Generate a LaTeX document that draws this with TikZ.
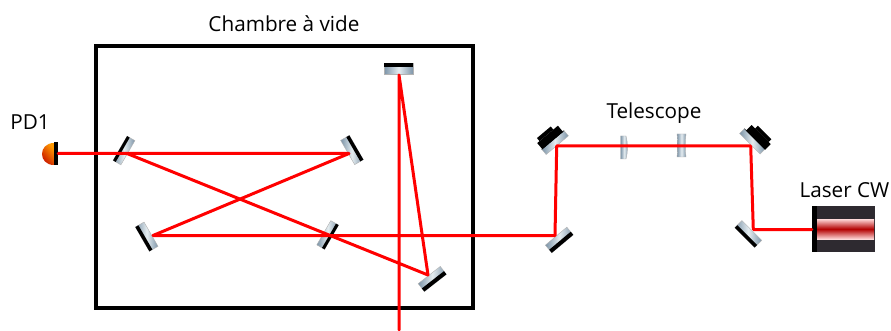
\documentclass[tikz,border=0pt]{standalone}
\usepackage{fontspec}
\setmainfont{Open Sans}
\definecolor{mirA}{HTML}{7C94A8}
\definecolor{mirB}{HTML}{E4ECF0}
\definecolor{beam}{HTML}{FF0000}
\definecolor{body}{HTML}{2E2A30}
\tikzset{
  lbl/.style={font=\fontsize{20.7}{24}\selectfont, inner sep=0pt, text=black},
  glass/.style={left color=mirA, right color=mirA, middle color=mirB, draw=gray!60, line width=0.4pt},
  ray/.style={draw=beam, line width=3pt, line cap=round, line join=round},
  chamber/.style={draw=black, line width=3.6pt, rectangle, inner sep=0pt, minimum width=377pt, minimum height=262pt},
  marker/.style={inner sep=0pt, minimum size=0pt},
}
% name, x, y, angle, length, height, black thickness
\newcommand\opticmirror[7]{%
  \node[marker] (#1) at (#2,#3) {};
  \begin{scope}[shift={(#2,#3)}, rotate=#4]
    \path[glass] (-#5pt/2,-#6pt/2) rectangle (#5pt/2,#6pt/2);
    \fill[black] (-#5pt/2,#6pt/2) rectangle (#5pt/2,#6pt/2-#7pt);
  \end{scope}}
\begin{document}
\begin{tikzpicture}[x=1pt,y=-1pt]
\useasboundingbox (0,0) rectangle (891,331);
\fill[white] (0,0) rectangle (891,331);
% chamber
\node[chamber] (box) at (284.5,177) {};
% labels
\node[lbl] (t1) at (284,24) {Chambre à vide};
\node[lbl] (t2) at (654,113) {Telescope};
\node[lbl] (t3) at (844.5,190) {Laser CW};
\node[lbl] (t4) at (30,122) {PD1};
% mirrors
\opticmirror{m1}{124}{150.5}{60}{28}{9}{3}
\opticmirror{m2}{352}{150}{-60}{28}{10}{3.5}
\opticmirror{m3}{146.7}{236.7}{120}{28}{10}{3.5}
\opticmirror{m4}{327.7}{235}{-120}{28}{9}{3}
\opticmirror{m5}{432.3}{279}{-142}{28}{10}{4}
\opticmirror{m6}{398.7}{69}{0}{29}{11}{4}
\opticmirror{m7}{555}{142.5}{40}{29}{7}{0.5}
\opticmirror{m8}{559.3}{240}{-140}{28}{10}{4}
\opticmirror{m9}{752.3}{141.3}{-45}{29}{7}{0.5}
\opticmirror{m10}{748.3}{234}{135}{28}{10}{3.5}
\begin{scope}[shift={(555,142.5)}, rotate=40]
  \fill[black] (-14pt,3pt) rectangle (13pt,11pt);
  \fill[black] (-11pt,11pt) rectangle (7pt,15pt);
\end{scope}
\begin{scope}[shift={(752.3,141.3)}, rotate=-45]
  \fill[black] (-12pt,3pt) rectangle (15pt,11pt);
  \fill[black] (-7pt,11pt) rectangle (12pt,15pt);
\end{scope}
% lenses
\path[glass] (620.5,136) -- (626,136) .. controls (628,144) and (628,151) .. (626,159) -- (620.5,159) -- cycle;
\path[glass] (677,134) -- (686,134) .. controls (685,142) and (685,150) .. (686,157) -- (677,157) .. controls (678,150) and (678,142) .. (677,134) -- cycle;
% photodiode
\path[left color=orange!80!yellow, right color=red!75!black, shading angle=-50]
  (54,143) .. controls (38,143) and (38,165) .. (54,165) -- cycle;
\node[fill=black, inner sep=0pt, minimum width=4pt, minimum height=23pt] (pd) at (56,154) {};
% laser
\node[fill=body, inner sep=0pt, minimum width=63pt, minimum height=46pt] (laser) at (843.5,229) {};
\fill[black] (laser.north west) rectangle ([xshift=5pt]laser.south west);
\path[top color=red!15!white, bottom color=red!15!white, middle color=red!70!black] (817,219) rectangle (874,239);
% beam points
\coordinate (h1) at (127,153.5);
\coordinate (h2) at (349,153.5);
\coordinate (h3) at (153,235.5);
\coordinate (h5) at (428,275);
\coordinate (h6) at (399,75);
\coordinate (h7) at (556.7,146);
\coordinate (h8) at (555,235.5);
\coordinate (h9) at (750.7,146);
\coordinate (h10) at (753.3,229.5);
\coordinate (out) at (399,330);
% beams
\draw[ray] (pd.east |- h1) -- (h2) -- (h3) -- (h8) -- (h7) -- (h9) -- (h10) -- (laser.west |- h10);
\draw[ray] (h1) -- (h5) -- (h6) -- (out);
\end{tikzpicture}
\end{document}
